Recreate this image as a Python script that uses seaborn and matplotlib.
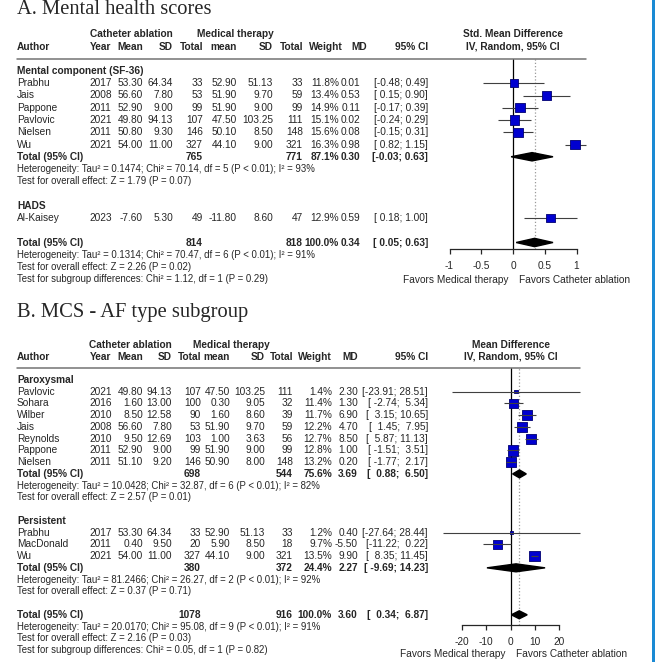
import numpy as np
import pandas as pd
import matplotlib.pyplot as plt
import seaborn as sns
from matplotlib.lines import Line2D
from matplotlib.patches import Rectangle

# ---------------- A. Mental health scores ----------------
a_author = ["Prabhu", "Jais", "Pappone", "Pavlovic", "Nielsen", "Wu", "Al-Kaisey"]
a_year = [2017, 2008, 2011, 2021, 2011, 2021, 2023]
a_mean_ca = [53.30, 56.60, 52.90, 49.80, 50.80, 54.00, -7.60]
a_sd_ca = [64.34, 7.80, 9.00, 94.13, 9.30, 11.00, 5.30]
a_n_ca = [33, 53, 99, 107, 146, 327, 49]
a_mean_mt = [52.90, 51.90, 51.90, 47.50, 50.10, 44.10, -11.80]
a_sd_mt = [51.13, 9.70, 9.00, 103.25, 8.50, 9.00, 8.60]
a_n_mt = [33, 59, 99, 111, 148, 321, 47]
a_weight = [11.8, 13.4, 14.9, 15.1, 15.6, 16.3, 12.9]
a_md = [0.01, 0.53, 0.11, 0.02, 0.08, 0.98, 0.59]
a_lo = [-0.48, 0.15, -0.17, -0.24, -0.15, 0.82, 0.18]
a_hi = [0.49, 0.90, 0.39, 0.29, 0.31, 1.15, 1.00]
a_group = [0, 0, 0, 0, 0, 0, 1]
a_group_names = ["Mental component (SF-36)", "HADS"]

a_sub_n_ca = [765, None]
a_sub_n_mt = [771, None]
a_sub_w = [87.1, None]
a_sub_md = [0.30, None]
a_sub_lo = [-0.03, None]
a_sub_hi = [0.63, None]
a_sub_het = ["Heterogeneity: Tau² = 0.1474; Chi² = 70.14, df = 5 (P < 0.01); I² = 93%", None]
a_sub_z = ["Test for overall effect: Z = 1.79 (P = 0.07)", None]

a_tot = [814, 818, 100.0, 0.34, 0.05, 0.63]  # n_ca, n_mt, weight, md, lo, hi
a_tot_het = "Heterogeneity: Tau² = 0.1314; Chi² = 70.47, df = 6 (P < 0.01); I² = 91%"
a_tot_z = "Test for overall effect: Z = 2.26 (P = 0.02)"
a_diff = "Test for subgroup differences: Chi² = 1.12, df = 1 (P = 0.29)"
a_ticks = [-1, -0.5, 0, 0.5, 1]
a_ticklabels = ["-1", "-0.5", "0", "0.5", "1"]

# ---------------- B. MCS - AF type subgroup ----------------
b_author = ["Pavlovic", "Sohara", "Wilber", "Jais", "Reynolds", "Pappone", "Nielsen",
            "Prabhu", "MacDonald", "Wu"]
b_year = [2021, 2016, 2010, 2008, 2010, 2011, 2011, 2017, 2011, 2021]
b_mean_ca = [49.80, 1.60, 8.50, 56.60, 9.50, 52.90, 51.10, 53.30, 0.40, 54.00]
b_sd_ca = [94.13, 13.00, 12.58, 7.80, 12.69, 9.00, 9.20, 64.34, 9.50, 11.00]
b_n_ca = [107, 100, 90, 53, 103, 99, 146, 33, 20, 327]
b_mean_mt = [47.50, 0.30, 1.60, 51.90, 1.00, 51.90, 50.90, 52.90, 5.90, 44.10]
b_sd_mt = [103.25, 9.05, 8.60, 9.70, 3.63, 9.00, 8.00, 51.13, 8.50, 9.00]
b_n_mt = [111, 32, 39, 59, 56, 99, 148, 33, 18, 321]
b_weight = [1.4, 11.4, 11.7, 12.2, 12.7, 12.8, 13.2, 1.2, 9.7, 13.5]
b_md = [2.30, 1.30, 6.90, 4.70, 8.50, 1.00, 0.20, 0.40, -5.50, 9.90]
b_lo = [-23.91, -2.74, 3.15, 1.45, 5.87, -1.51, -1.77, -27.64, -11.22, 8.35]
b_hi = [28.51, 5.34, 10.65, 7.95, 11.13, 3.51, 2.17, 28.44, 0.22, 11.45]
b_group = [0, 0, 0, 0, 0, 0, 0, 1, 1, 1]
b_group_names = ["Paroxysmal", "Persistent"]

b_sub_n_ca = [698, 380]
b_sub_n_mt = [544, 372]
b_sub_w = [75.6, 24.4]
b_sub_md = [3.69, 2.27]
b_sub_lo = [0.88, -9.69]
b_sub_hi = [6.50, 14.23]
b_sub_het = ["Heterogeneity: Tau² = 10.0428; Chi² = 32.87, df = 6 (P < 0.01); I² = 82%",
             "Heterogeneity: Tau² = 81.2466; Chi² = 26.27, df = 2 (P < 0.01); I² = 92%"]
b_sub_z = ["Test for overall effect: Z = 2.57 (P = 0.01)",
           "Test for overall effect: Z = 0.37 (P = 0.71)"]

b_tot = [1078, 916, 100.0, 3.60, 0.34, 6.87]
b_tot_het = "Heterogeneity: Tau² = 20.0170; Chi² = 95.08, df = 9 (P < 0.01); I² = 91%"
b_tot_z = "Test for overall effect: Z = 2.16 (P = 0.03)"
b_diff = "Test for subgroup differences: Chi² = 0.05, df = 1 (P = 0.82)"
b_ticks = [-20, -10, 0, 10, 20]
b_ticklabels = ["-20", "-10", "0", "10", "20"]

# ---------------- figure ----------------
sns.set_style("white")
plt.rcParams["font.family"] = ["Liberation Sans", "DejaVu Sans"]

W, H = 655, 662
fig = plt.figure(figsize=(W / 100, H / 100), dpi=100)
FS = 7.3
FS_SMALL = 6.95
BLUE = "#0000d0"


def put(x, y, s, ha="left", bold=False, size=FS, **kw):
    fig.text(x / W, 1 - y / H, s, ha=ha, va="center", fontsize=size,
             fontweight="bold" if bold else "normal", **kw)


def build_rows(group, names, sub_md):
    rows = []
    for g in range(len(names)):
        rows.append(("group", g))
        rows += [("study", i) for i, gi in enumerate(group) if gi == g]
        if sub_md[g] is not None:
            rows += [("subtotal", g), ("subhet", g), ("subz", g)]
        rows.append(("blank", g))
    rows += [("total", 0), ("het", 0), ("z", 0), ("diff", 0)]
    return rows


def ci_str(lo, hi, w1, w2):
    return f"[{lo:{w1}.2f}; {hi:{w2}.2f}]"


def draw_panel(d, lay):
    y0, step, c = lay["y0"], lay["step"], lay["cols"]
    put(17, lay["title_y"], lay["title"], family="Liberation Serif", size=14.8)

    # headers
    hy1, hy2, ly = y0 - 3 * step, y0 - 2 * step, y0 - step
    put(lay["ca_x"], hy1, "Catheter ablation", ha="center", bold=True)
    put(lay["mt_x"], hy1, "Medical therapy", ha="center", bold=True)
    put(17, hy2, "Author", bold=True)
    put(c["year"] + 1, hy2, "Year", bold=True)
    for key, lab in [("m1", "Mean"), ("s1", "SD"), ("n1", "Total"), ("m2", "mean"),
                     ("s2", "SD"), ("n2", "Total"), ("ci", "95% CI")]:
        put(c[key], hy2, lab, ha="right", bold=True)
    put(lay["w_head"], hy2, "Weight", ha="right", bold=True)
    put(lay["md_head"], hy2, "MD", ha="right", bold=True)
    put(lay["zero"], hy1, lay["effect1"], ha="center", bold=True)
    put(lay["zero"], hy2, "IV, Random, 95% CI", ha="center", bold=True)
    fig.add_artist(Line2D([17 / W, lay["line_end"] / W], [1 - ly / H, 1 - ly / H],
                          color="0.45", lw=1.1))

    rows = build_rows(d["group"], d["names"], d["sub_md"])
    w1, w2 = lay["ciw"]
    study_rows, diamonds = [], []
    for r, (kind, i) in enumerate(rows):
        y = y0 + r * step
        if kind == "group":
            put(17, y, d["names"][i], bold=True)
        elif kind == "study":
            put(17, y, d["author"][i])
            put(c["year"], y, str(d["year"][i]))
            put(c["m1"], y, f"{d['mean_ca'][i]:.2f}", ha="right")
            put(c["s1"], y, f"{d['sd_ca'][i]:.2f}", ha="right")
            put(c["n1"], y, str(d["n_ca"][i]), ha="right")
            put(c["m2"], y, f"{d['mean_mt'][i]:.2f}", ha="right")
            put(c["s2"], y, f"{d['sd_mt'][i]:.2f}", ha="right")
            put(c["n2"], y, str(d["n_mt"][i]), ha="right")
            put(c["w"], y, f"{d['weight'][i]:.1f}%", ha="right")
            put(c["md"], y, f"{d['md'][i]:.2f}", ha="right")
            put(c["ci"], y, ci_str(d["lo"][i], d["hi"][i], w1, w2), ha="right")
            study_rows.append(r)
        elif kind in ("subtotal", "total"):
            if kind == "subtotal":
                vals = [d["sub_n_ca"][i], d["sub_n_mt"][i], d["sub_w"][i],
                        d["sub_md"][i], d["sub_lo"][i], d["sub_hi"][i]]
            else:
                vals = d["tot"]
            put(17, y, "Total (95% CI)", bold=True)
            put(c["n1"], y, str(vals[0]), ha="right", bold=True)
            put(c["n2"], y, str(vals[1]), ha="right", bold=True)
            put(c["w"], y, f"{vals[2]:.1f}%", ha="right", bold=True)
            put(c["md"], y, f"{vals[3]:.2f}", ha="right", bold=True)
            put(c["ci"], y, ci_str(vals[4], vals[5], w1, w2), ha="right", bold=True)
            diamonds.append((r, vals[3], vals[4], vals[5]))
        elif kind == "subhet":
            put(17, y, d["sub_het"][i], size=FS_SMALL)
        elif kind == "subz":
            put(17, y, d["sub_z"][i], size=FS_SMALL)
        elif kind == "het":
            put(17, y, d["tot_het"], size=FS_SMALL)
        elif kind == "z":
            put(17, y, d["tot_z"], size=FS_SMALL)
        elif kind == "diff":
            put(17, y, d["diff"], size=FS_SMALL)

    # forest axes
    zero, scale, xlim = lay["zero"], lay["scale"], lay["xlim"]
    left = zero + xlim[0] * scale
    right = zero + xlim[1] * scale
    ax = fig.add_axes([left / W, 1 - lay["axis_y"] / H, (right - left) / W,
                       (lay["axis_y"] - ly) / H])
    ax.set_facecolor("none")
    ax.set_xlim(xlim)
    ax.set_ylim((lay["axis_y"] - y0) / step, -1)

    df = pd.DataFrame({"md": d["md"], "lo": d["lo"], "hi": d["hi"],
                       "weight": d["weight"], "row": study_rows})
    ax.axvline(0, color="black", lw=0.9, zorder=1)
    ax.axvline(d["tot"][3], color="0.6", ls=":", lw=0.9, zorder=1)
    ax.hlines(df["row"], df["lo"], df["hi"], color="0.25", lw=0.8,
              zorder=lay["ci_z"])
    sns.scatterplot(data=df, x="md", y="row", size="weight",
                    size_norm=(0, max(d["weight"])), sizes=(0, lay["smax"]),
                    marker="s", color=BLUE, edgecolor="#000070", linewidth=0.6,
                    legend=False, ax=ax, zorder=3)
    for r, m, lo, hi in diamonds:
        h = 0.34
        ax.fill([lo, m, hi, m], [r, r - h, r, r + h], color="black", zorder=4)

    ax.set_xlabel("")
    ax.set_ylabel("")
    ax.set_yticks([])
    ax.set_xticks(d["ticks"])
    ax.set_xticklabels(d["ticklabels"])
    for s in ["top", "left", "right"]:
        ax.spines[s].set_visible(False)
    ax.spines["bottom"].set_bounds(d["ticks"][0], d["ticks"][-1])
    ax.spines["bottom"].set_linewidth(0.9)
    ax.tick_params(axis="x", direction="out", length=3.6, width=0.9,
                   labelsize=FS, pad=5.0, bottom=True)
    put(zero - 5, lay["favors_y"], "Favors Medical therapy", ha="right")
    put(zero + 6, lay["favors_y"], "Favors Catheter ablation")


panel_a = dict(author=a_author, year=a_year, mean_ca=a_mean_ca, sd_ca=a_sd_ca, n_ca=a_n_ca,
               mean_mt=a_mean_mt, sd_mt=a_sd_mt, n_mt=a_n_mt, weight=a_weight, md=a_md,
               lo=a_lo, hi=a_hi, group=a_group, names=a_group_names,
               sub_n_ca=a_sub_n_ca, sub_n_mt=a_sub_n_mt, sub_w=a_sub_w, sub_md=a_sub_md,
               sub_lo=a_sub_lo, sub_hi=a_sub_hi, sub_het=a_sub_het, sub_z=a_sub_z,
               tot=a_tot, tot_het=a_tot_het, tot_z=a_tot_z, diff=a_diff,
               ticks=a_ticks, ticklabels=a_ticklabels)
panel_b = dict(author=b_author, year=b_year, mean_ca=b_mean_ca, sd_ca=b_sd_ca, n_ca=b_n_ca,
               mean_mt=b_mean_mt, sd_mt=b_sd_mt, n_mt=b_n_mt, weight=b_weight, md=b_md,
               lo=b_lo, hi=b_hi, group=b_group, names=b_group_names,
               sub_n_ca=b_sub_n_ca, sub_n_mt=b_sub_n_mt, sub_w=b_sub_w, sub_md=b_sub_md,
               sub_lo=b_sub_lo, sub_hi=b_sub_hi, sub_het=b_sub_het, sub_z=b_sub_z,
               tot=b_tot, tot_het=b_tot_het, tot_z=b_tot_z, diff=b_diff,
               ticks=b_ticks, ticklabels=b_ticklabels)

layout_a = dict(title="A. Mental health scores", title_y=10, y0=71, step=12.25,
                cols=dict(year=89, m1=143, s1=173, n1=203, m2=237, s2=273, n2=303,
                          w=339, md=360, ci=428),
                w_head=343, md_head=367, ca_x=131.5, mt_x=235, line_end=586,
                effect1="Std. Mean Difference", zero=513, scale=63.5, xlim=(-1.2, 1.4),
                axis_y=249, favors_y=280, ciw=(5, 4), smax=46.8, ci_z=2)
layout_b = dict(title="B. MCS - AF type subgroup", title_y=312, y0=380, step=11.74,
                cols=dict(year=89, m1=143, s1=172, n1=201, m2=230, s2=265, n2=293,
                          w=332, md=358, ci=428),
                w_head=332, md_head=358, ca_x=130, mt_x=231, line_end=580,
                effect1="Mean Difference", zero=510.5, scale=2.43, xlim=(-30, 32),
                axis_y=625, favors_y=654, ciw=(6, 5), smax=57.2, ci_z=5)

draw_panel(panel_a, layout_a)
draw_panel(panel_b, layout_b)

# thin blue frame edge on the right side
fig.add_artist(Rectangle((652 / W, 0), 3 / W, 1, transform=fig.transFigure,
                         color="#1a8ad4", lw=0))

fig.savefig("out.png", dpi=100)
